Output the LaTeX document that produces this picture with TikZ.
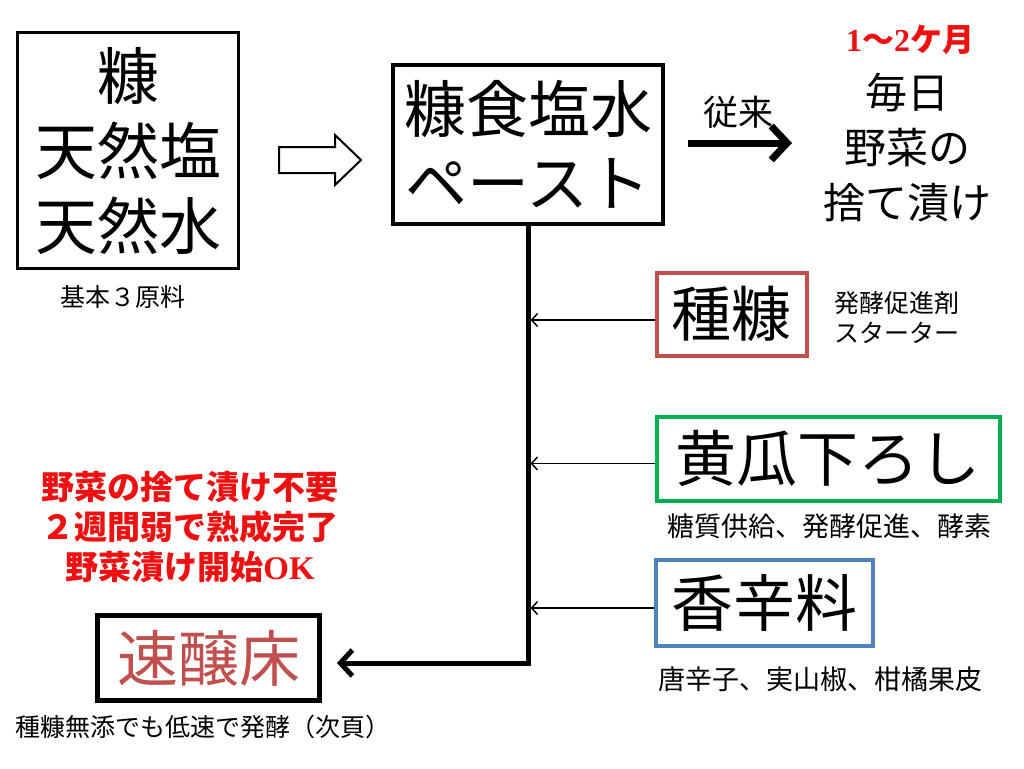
\documentclass[tikz,border=0pt]{standalone}
\usepackage{fontspec}
\setmainfont{Noto Sans CJK JP}
\newfontfamily\latinserif{Liberation Serif}
\usetikzlibrary{arrows.meta}
\definecolor{boxred}{HTML}{C0504D}
\definecolor{boxgreen}{HTML}{00B050}
\definecolor{boxblue}{HTML}{4F81BD}
\definecolor{txtred}{HTML}{EE1111}
\newcommand{\fs}[2]{\fontsize{#1}{#2}\selectfont}
\tikzset{
  framebox/.style={draw, inner sep=0pt, align=center},
  capt/.style={inner sep=0pt, align=center},
  thinarrow/.style={line width=1.5pt, shorten >=2.5pt, -{Straight Barb[length=6pt,width=13pt]}},
  trunk/.style={line width=5pt},
}
\begin{document}
\begin{tikzpicture}[x=1pt,y=-1pt]
\useasboundingbox[fill=white] (0,0) rectangle (1024,768);

% main boxes
\node[framebox, line width=3pt, minimum width=221pt, minimum height=236pt, font=\fs{62}{75}] (raw) at (128,150.5)
  {糠\\天然塩\\天然水};
\node[capt, font=\fs{25}{27}] (rawcap) at (123,297) {基本３原料};

\node[framebox, line width=4pt, minimum width=270pt, minimum height=159pt, font=\fs{62}{74}] (paste) at (528,144.5)
  {糠食塩水\\ペースト};

% hollow arrow
\draw[line width=2pt, line join=miter] (279,147) -- (335,147) -- (335,135) -- (361,160) -- (335,185) -- (335,173) -- (279,173) -- cycle;

% conventional route
\node[capt, text=txtred, font=\fs{32}{34}\bfseries] (period) at (910,40) {{\latinserif\bfseries 1}〜{\latinserif\bfseries 2}ケ月};
\node[capt, font=\fs{42}{55}] (conv) at (907,148) {毎日\\野菜の\\捨て漬け};
\node[capt, font=\fs{35}{37}] (convlab) at (738,112) {従来};
\coordinate (convtip) at (792,143);
\draw[line width=7pt, shorten <=23pt, -{Straight Barb[length=16pt,width=34pt]}] (paste.east |- convtip) -- (convtip);

% additive boxes
\node[framebox, draw=boxred, line width=4pt, minimum width=150pt, minimum height=83pt, font=\fs{60}{62}] (seed) at (731.5,314)
  {種糠};
\node[capt, align=left, font=\fs{25}{30}] (seedcap) at (897,318) {発酵促進剤\\スターター};

\node[framebox, draw=boxgreen, line width=4pt, minimum width=343pt, minimum height=84pt, font=\fs{61}{63}] (cuke) at (828,458.5)
  {黄瓜下ろし};
\node[capt, font=\fs{27}{29}] (cukecap) at (829,526) {糖質供給、発酵促進、酵素};

\node[framebox, draw=boxblue, line width=4pt, minimum width=217pt, minimum height=86pt, font=\fs{62}{64}] (spice) at (764,603)
  {香辛料};
\node[capt, font=\fs{27}{29}] (spicecap) at (820,679) {唐辛子、実山椒、柑橘果皮};

% result box
\node[framebox, line width=5pt, minimum width=222pt, minimum height=85pt, text=boxred, font=\fs{61}{63}] (quick) at (208.5,658)
  {速醸床};
\node[capt, font=\fs{25}{27}] (quickcap) at (203,727) {種糠無添でも低速で発酵（次頁）};

\node[capt, text=txtred, font=\fs{33}{40}\bfseries] (note) at (190,527)
  {野菜の捨て漬け不要\\２週間弱で熟成完了\\ 野菜漬け開始{\latinserif\bfseries OK}};

% connectors
\coordinate (corner) at (528,663);
\draw[trunk, line join=miter] (paste.south) -- (corner) -- ([xshift=30pt]quick.east |- corner);
\draw[line width=5pt, shorten >=15pt, -{Straight Barb[length=12pt,width=26pt]}] (corner) -- (quick.east |- corner);

\draw[thinarrow] ([yshift=-6pt]seed.west) -- ([yshift=-6pt]seed.west -| paste.south);
\draw[thinarrow] ([yshift=-5pt]cuke.west) -- ([yshift=-5pt]cuke.west -| paste.south);
\draw[thinarrow] ([yshift=-5pt]spice.west) -- ([yshift=-5pt]spice.west -| paste.south);
\end{tikzpicture}
\end{document}
